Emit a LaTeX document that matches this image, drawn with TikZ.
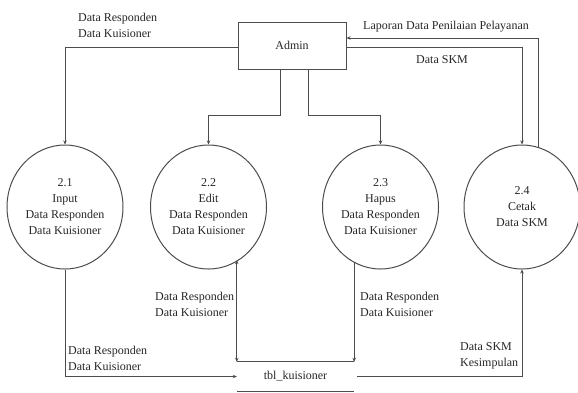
\documentclass[tikz,border=0pt]{standalone}
\usepackage{fontspec}
\setmainfont{Liberation Serif}
\usetikzlibrary{arrows.meta,shapes.geometric}
\begin{document}
\begin{tikzpicture}[x=1pt,y=-1pt,
 every node/.style={font=\fontsize{12}{16}\selectfont, text=black!85},
 proc/.style={ellipse, draw=black!70, line width=1pt, minimum width=116pt, minimum height=124pt, inner sep=0pt, align=center},
 ent/.style={draw=black!70, line width=1pt, minimum width=108pt, minimum height=47pt, inner sep=0pt},
 wire/.style={draw=black!70, line width=1pt},
 flow/.style={wire, -{Stealth[length=4pt,width=3.5pt]}},
 biflow/.style={wire, {Stealth[length=4pt,width=3.5pt]}-{Stealth[length=4pt,width=3.5pt]}},
 lbl/.style={inner sep=0pt, align=left}]
\useasboundingbox (0,0) rectangle (578,392);

\node[ent] (admin) at (292,45.5) {Admin};
\node[proc] (p1) at (65,207) {2.1\\Input\\Data Responden\\Data Kuisioner};
\node[proc] (p2) at (208.5,207) {2.2\\Edit\\Data Responden\\Data Kuisioner};
\node[proc] (p3) at (380.5,207) {2.3\\Hapus\\Data Responden\\Data Kuisioner};
\node[proc] (p4) at (522,207) {2.4\\Cetak\\Data SKM};
\node[minimum width=117pt, minimum height=29pt, inner sep=0pt] (store) at (295.5,376.5) {\raisebox{-3pt}{tbl\_kuisioner}};
\draw[wire] (store.north west) -- (store.north east);
\draw[wire] (store.south west) -- (store.south east);

\draw[flow] ([yshift=-1.5pt]admin.west) -| (p1.north);
\draw[flow] ([xshift=-12pt]admin.south) -- ++(0,46) -| (p2.north);
\draw[flow] ([xshift=16pt]admin.south) -- ++(0,46) -| (p3.north);
\draw[flow] ([yshift=-1.5pt]admin.east) -| (p4.north);
\draw[flow] (p4.75) |- ([yshift=7.5pt]admin.east);
\draw[flow] (p1.south) |- (store.west);
\draw[biflow] (store.north west |- p2.-60) -- (store.north west);
\draw[flow] (store.north east |- p3.-115) -- (store.north east);
\draw[flow] ([xshift=3pt]store.east) -| (p4.south);

\node[lbl, anchor=west] (t1) at (78,25) {Data Responden\\Data Kuisioner};
\node[lbl] (t2) at (446,27) {Laporan Data Penilaian Pelayanan};
\node[lbl] (t3) at (442,60) {Data SKM};
\node[lbl, anchor=west] (t4) at (155,304) {Data Responden\\Data Kuisioner};
\node[lbl, anchor=west] (t5) at (360,304) {Data Responden\\Data Kuisioner};
\node[lbl, anchor=west] (t6) at (68,358) {Data Responden\\Data Kuisioner};
\node[lbl, anchor=west] (t7) at (460,356) {Data SKM\\Kesimpulan};
\end{tikzpicture}
\end{document}
